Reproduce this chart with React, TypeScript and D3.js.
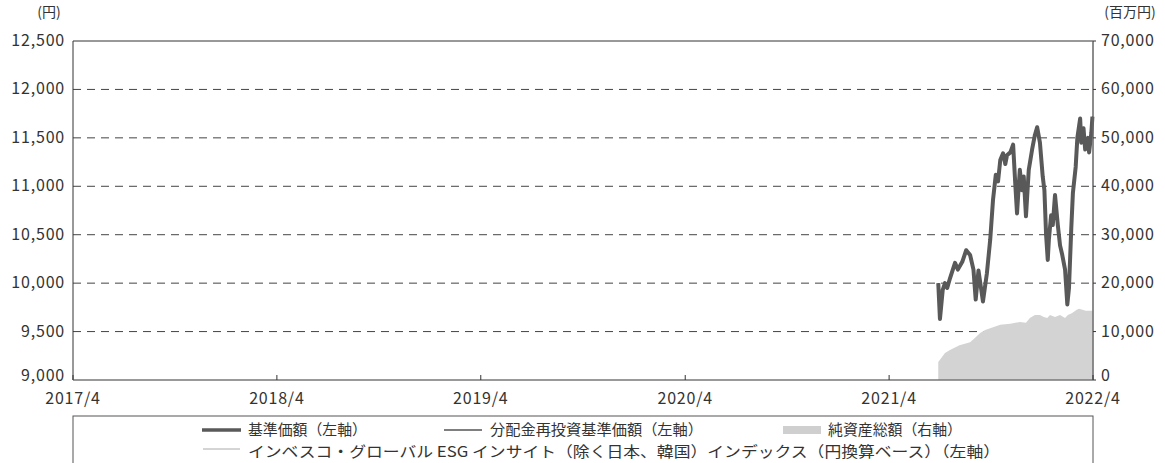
import React from "react";
import * as d3 from "d3";

const leftTicks = [9000, 9500, 10000, 10500, 11000, 11500, 12000, 12500];
const rightTicks = [0, 10000, 20000, 30000, 40000, 50000, 60000, 70000];
const xTickLabels = ["2017/4", "2018/4", "2019/4", "2020/4", "2021/4", "2022/4"];

const navDates = [
  "2021-06-28", "2021-07-01", "2021-07-06", "2021-07-10", "2021-07-14", "2021-07-19", "2021-07-28",
  "2021-08-02", "2021-08-10", "2021-08-17", "2021-08-24", "2021-08-30", "2021-09-03",
  "2021-09-08", "2021-09-16", "2021-09-23", "2021-09-29", "2021-10-04", "2021-10-09",
  "2021-10-13", "2021-10-17", "2021-10-22", "2021-10-26", "2021-10-29", "2021-11-04", "2021-11-09", "2021-11-13",
  "2021-11-16", "2021-11-19", "2021-11-21", "2021-11-25", "2021-11-28", "2021-12-02", "2021-12-07",
  "2021-12-13", "2021-12-18", "2021-12-22", "2021-12-27", "2022-01-01", "2022-01-04",
  "2022-01-07", "2022-01-10", "2022-01-12", "2022-01-16", "2022-01-19", "2022-01-23", "2022-01-28",
  "2022-02-01", "2022-02-05", "2022-02-10", "2022-02-14", "2022-02-17", "2022-02-21",
  "2022-02-24", "2022-03-01", "2022-03-04", "2022-03-09", "2022-03-11", "2022-03-15",
  "2022-03-18", "2022-03-23", "2022-03-25", "2022-03-29", "2022-03-31",
];
const navValues = [
  10000, 9630, 9930, 10000, 9950, 10050, 10210,
  10140, 10220, 10340, 10290, 10140, 9830,
  10130, 9810, 10100, 10450, 10860, 11120,
  11050, 11270, 11340, 11230, 11320, 11350, 11430, 11010,
  10720, 11000, 11170, 10960, 11100, 10690, 11170,
  11380, 11530, 11610, 11450, 11100, 10960,
  10500, 10240, 10450, 10700, 10600, 10910, 10600,
  10390, 10290, 10140, 9780, 9950, 10550,
  10930, 11200, 11500, 11700, 11450, 11600,
  11380, 11500, 11350, 11550, 11720,
];
const reinvestValues = navValues;
const indexValues = navValues;

const assetDates = [
  "2021-06-28", "2021-07-10", "2021-07-19", "2021-08-05", "2021-08-24", "2021-09-02",
  "2021-09-11", "2021-09-20", "2021-09-29", "2021-10-17", "2021-11-04", "2021-11-21",
  "2021-12-02", "2021-12-09", "2021-12-18", "2021-12-27", "2022-01-03", "2022-01-09",
  "2022-01-14", "2022-01-23", "2022-02-01", "2022-02-10", "2022-02-15", "2022-02-22",
  "2022-03-03", "2022-03-07", "2022-03-19", "2022-03-28", "2022-03-31",
];
const assetValues = [
  3700, 5600, 6200, 7200, 7800, 8700,
  9700, 10300, 10700, 11400, 11600, 12000,
  11800, 12800, 13400, 13400, 13000, 12800,
  13400, 13000, 13400, 12800, 13400, 13800,
  14500, 14700, 14300, 14300, 14300,
];

const W = 1165;
const H = 463;
const L = 73;
const R = 1093;
const T = 41;
const B = 380;
const FONT = "'Noto Sans CJK JP', 'Noto Sans', sans-serif";

export default function App() {
  const parse = d3.timeParse("%Y-%m-%d");
  const x = d3.scaleTime().domain([new Date(2017, 3, 1), new Date(2022, 3, 1)]).range([L, R]);
  const yL = d3.scaleLinear().domain([9000, 12500]).range([B, T]);
  const yR = d3.scaleLinear().domain([0, 70000]).range([B, T]);

  const nav = navDates.map((d, i) => ({ d: parse(d) as Date, v: navValues[i] }));
  const reinv = navDates.map((d, i) => ({ d: parse(d) as Date, v: reinvestValues[i] }));
  const idx = navDates.map((d, i) => ({ d: parse(d) as Date, v: indexValues[i] }));
  const assets = assetDates.map((d, i) => ({ d: parse(d) as Date, v: assetValues[i] }));

  const line = d3.line<{ d: Date; v: number }>().x((p) => x(p.d)).y((p) => yL(p.v));
  const area = d3
    .area<{ d: Date; v: number }>()
    .x((p) => x(p.d))
    .y0(yR(0))
    .y1((p) => yR(p.v));

  const xTicks = xTickLabels.map((s) => {
    const [yy, mm] = s.split("/").map(Number);
    return { s, d: new Date(yy, mm - 1, 1) };
  });

  const fmt = d3.format(",");
  const numStyle = { fontSize: 16, fill: "#333", letterSpacing: 0.8 } as const;
  const legStyle = { fontSize: 15, fill: "#333", lengthAdjust: "spacingAndGlyphs" } as const;
  const labelY = (py: number) => Math.min(py + 5, B + 0.5);

  return (
    <svg width={W} height={H} style={{ position: "absolute", left: 0, top: 0, background: "#fff" }} fontFamily={FONT}>
      {leftTicks.slice(1, -1).map((t) => (
        <line key={t} x1={L} x2={R} y1={yL(t)} y2={yL(t)} stroke="#444" strokeWidth={1} strokeDasharray="8,6" />
      ))}
      <path d={area(assets) || ""} fill="#d3d3d3" />
      <path d={line(idx) || ""} fill="none" stroke="#a8a8a8" strokeWidth={1} />
      <path d={line(reinv) || ""} fill="none" stroke="#000" strokeWidth={1} />
      <path d={line(nav) || ""} fill="none" stroke="#595959" strokeWidth={4} strokeLinejoin="round" />
      <line x1={L} x2={R} y1={T} y2={T} stroke="#333" strokeWidth={1} />
      <line x1={L} x2={L} y1={T} y2={B} stroke="#333" strokeWidth={1} />
      <line x1={R} x2={R} y1={T} y2={B} stroke="#666" strokeWidth={1.5} />
      <line x1={L} x2={R} y1={B} y2={B} stroke="#777" strokeWidth={1.5} />
      {xTicks.map((t) => (
        <g key={t.s}>
          <line x1={x(t.d)} x2={x(t.d)} y1={B} y2={B - 5} stroke="#333" />
          <text x={x(t.d)} y={404} textAnchor="middle" {...numStyle}>
            {t.s}
          </text>
        </g>
      ))}
      {leftTicks.map((t) => (
        <text key={t} x={65} y={labelY(yL(t))} textAnchor="end" {...numStyle}>
          {fmt(t)}
        </text>
      ))}
      <text x={49} y={17} textAnchor="middle" fontSize={14} fill="#333">(円)</text>
      {rightTicks.map((t) => (
        <g key={t}>
          <line x1={R} x2={R + 3} y1={yR(t)} y2={yR(t)} stroke="#333" />
          <text x={1101} y={labelY(yR(t))} textAnchor="start" {...numStyle}>
            {fmt(t)}
          </text>
        </g>
      ))}
      <text x={1130} y={17} textAnchor="middle" fontSize={14} fill="#333">(百万円)</text>
      <rect x={L} y={416} width={R - L} height={60} fill="none" stroke="#555" strokeWidth={1} />
      <line x1={202} x2={241} y1={430} y2={430} stroke="#595959" strokeWidth={3.5} />
      <text x={248} y={434.5} textLength={119} {...legStyle}>基準価額（左軸）</text>
      <line x1={444} x2={482} y1={430} y2={430} stroke="#000" strokeWidth={1.2} />
      <text x={490} y={434.5} textLength={213} {...legStyle}>分配金再投資基準価額（左軸）</text>
      <rect x={783} y={426} width={38} height={8} fill="#cfcfcf" />
      <text x={828} y={434.5} textLength={134} {...legStyle}>純資産総額（右軸）</text>
      <line x1={203} x2={240} y1={449} y2={449} stroke="#aaa" strokeWidth={1} />
      <text x={248} y={456.5} textLength={752} {...legStyle}>
        インベスコ・グローバル ESG インサイト（除く日本、韓国）インデックス（円換算ベース）（左軸）
      </text>
    </svg>
  );
}
